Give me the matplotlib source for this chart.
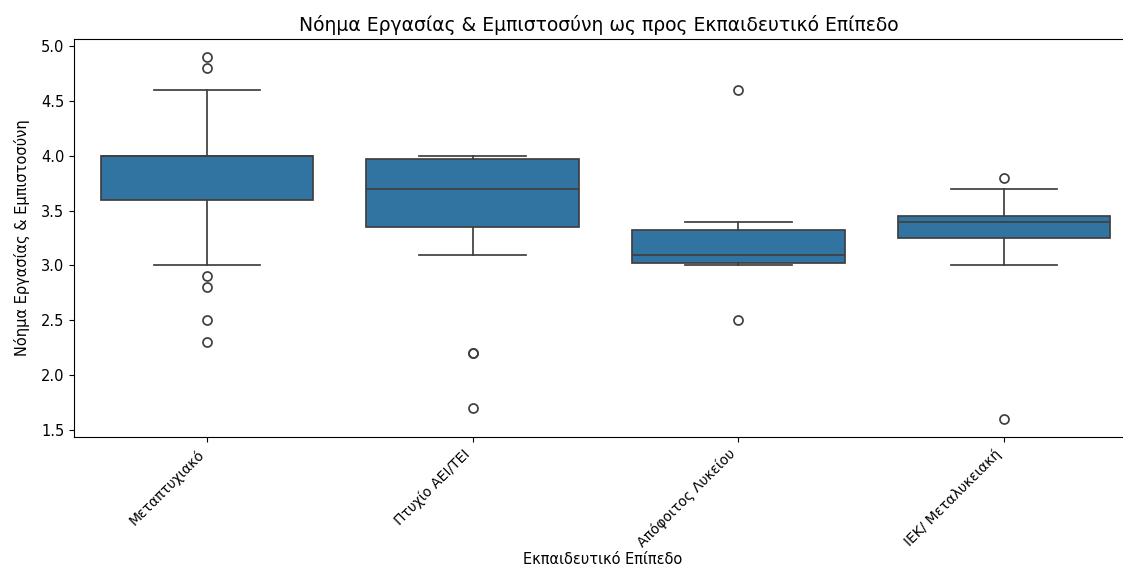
import numpy as np
import matplotlib
matplotlib.use('Agg')
import matplotlib.pyplot as plt

# Κατηγορίες και στατιστικά των κουτιών (διαβασμένα από το γράφημα)
categories = ['Μεταπτυχιακό', 'Πτυχίο ΑΕΙ/ΤΕΙ', 'Απόφοιτος Λυκείου', 'ΙΕΚ/ Μεταλυκειακή']
q1 = [3.6, 3.35, 3.02, 3.25]
medians = [4.0, 3.7, 3.1, 3.4]
q3 = [4.0, 3.975, 3.32, 3.45]
whislo = [3.0, 3.1, 3.0, 3.0]
whishi = [4.6, 4.0, 3.4, 3.7]
fliers = [
    [4.9, 4.8, 2.9, 2.8, 2.5, 2.3],
    [2.2, 2.2, 1.7],
    [4.6, 2.5],
    [3.8, 1.6],
]

stats = []
for i in range(len(categories)):
    stats.append(dict(label=categories[i], q1=q1[i], med=medians[i], q3=q3[i],
                      whislo=whislo[i], whishi=whishi[i], fliers=fliers[i]))

fig = plt.figure(figsize=(11.23, 5.7), dpi=100)
ax = fig.add_axes([0.0659, 0.2333, 0.9466, 0.698])

line_col = '#3f3f3f'
ax.bxp(stats, positions=range(len(categories)), widths=0.8, patch_artist=True,
       boxprops=dict(facecolor='#3274a1', edgecolor=line_col, linewidth=1.25),
       medianprops=dict(color=line_col, linewidth=1.25),
       whiskerprops=dict(color=line_col, linewidth=1.25),
       capprops=dict(color=line_col, linewidth=1.25),
       capwidths=0.4,
       flierprops=dict(marker='o', markerfacecolor='none', markeredgecolor=line_col,
                       markersize=6.5, markeredgewidth=1.25))

ax.set_xlim(-0.5, len(categories) - 0.5)
ax.margins(y=0.05)
ax.autoscale(axis='y')
ax.set_xticks(range(len(categories)))
ax.set_xticklabels(categories, rotation=45, ha='right', fontsize=10)
ax.tick_params(axis='y', labelsize=10.5)
ax.set_title('Νόημα Εργασίας & Εμπιστοσύνη ως προς Εκπαιδευτικό Επίπεδο', fontsize=13.5, x=0.494)
ax.set_xlabel('Εκπαιδευτικό Επίπεδο', fontsize=10.5)
ax.xaxis.set_label_coords(0.497, -0.29)
ax.set_ylabel('Νόημα Εργασίας & Εμπιστοσύνη', fontsize=10.5, labelpad=8)

fig.savefig('out.png', dpi=100)
